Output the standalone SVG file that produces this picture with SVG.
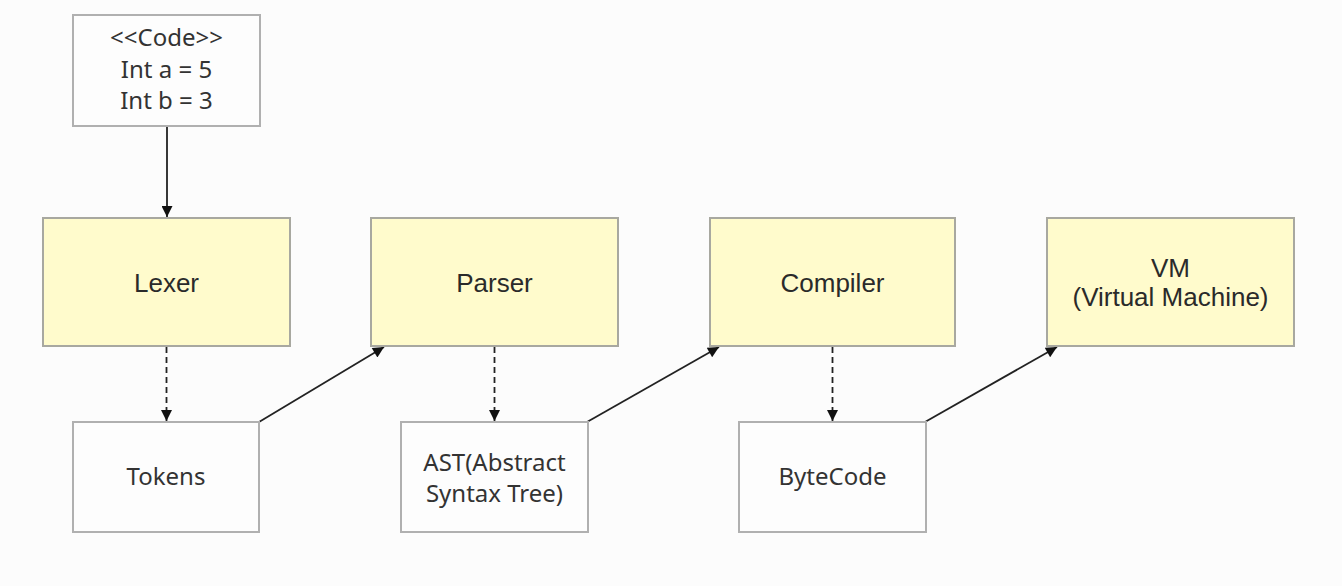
<svg xmlns="http://www.w3.org/2000/svg" width="1342" height="586" viewBox="0 0 1342 586">
<style>
.bg{fill:#fcfcfc}
.proc{fill:#fffbcc;stroke:#a8a8a0;stroke-width:2}
.data{fill:#fdfdfd;stroke:#b0b0b0;stroke-width:2}
.t1{font-family:"Liberation Sans",Arial,sans-serif;font-size:26px;fill:#2a2a2a;text-anchor:middle}
.t2{font-family:"Noto Sans","Open Sans",sans-serif;font-size:24px;fill:#333;text-anchor:middle}
.solid{stroke:#222;stroke-width:1.8;fill:none}
.dash{stroke:#222;stroke-width:1.8;fill:none;stroke-dasharray:6,4}
</style>
<defs>
<marker id="ahb" viewBox="0 0 10 10" refX="10" refY="5" markerWidth="13" markerHeight="11" markerUnits="userSpaceOnUse" orient="auto">
<path d="M0,0 L10,5 L0,10 z" fill="#111"/>
</marker>
</defs>
<rect class="bg" x="0" y="0" width="1342" height="586"/>
<g id="connectors">
<line class="solid" x1="167" y1="126" x2="167" y2="217" marker-end="url(#ahb)"/>
<line class="dash" x1="166.5" y1="347" x2="166.5" y2="421" marker-end="url(#ahb)"/>
<line class="dash" x1="494.5" y1="347" x2="494.5" y2="421" marker-end="url(#ahb)"/>
<line class="dash" x1="832.5" y1="347" x2="832.5" y2="421" marker-end="url(#ahb)"/>
<line class="solid" x1="259" y1="422" x2="384" y2="347" marker-end="url(#ahb)"/>
<line class="solid" x1="587" y1="422" x2="719" y2="347" marker-end="url(#ahb)"/>
<line class="solid" x1="925" y1="422" x2="1057" y2="347" marker-end="url(#ahb)"/>
</g>
<g id="code">
<rect class="data" x="73" y="15" width="187" height="111"/>
<text class="t2" x="166.5" y="46">&lt;&lt;Code&gt;&gt;</text>
<text class="t2" x="166.5" y="78">Int a = 5</text>
<text class="t2" x="166.5" y="109">Int b = 3</text>
</g>
<g id="lexer">
<rect class="proc" x="43" y="218" width="247" height="128"/>
<text class="t1" x="166.5" y="292">Lexer</text>
</g>
<g id="parser">
<rect class="proc" x="371" y="218" width="247" height="128"/>
<text class="t1" x="494.5" y="292">Parser</text>
</g>
<g id="compiler">
<rect class="proc" x="710" y="218" width="245" height="128"/>
<text class="t1" x="832.5" y="292">Compiler</text>
</g>
<g id="vm">
<rect class="proc" x="1047" y="218" width="247" height="128"/>
<text class="t1" x="1170.5" y="277">VM</text>
<text class="t1" x="1170.5" y="306">(Virtual Machine)</text>
</g>
<g id="tokens">
<rect class="data" x="73" y="422" width="186" height="110"/>
<text class="t2" x="166" y="485">Tokens</text>
</g>
<g id="ast">
<rect class="data" x="401" y="422" width="187" height="110"/>
<text class="t2" x="494.5" y="471">AST(Abstract</text>
<text class="t2" x="494.5" y="502">Syntax Tree)</text>
</g>
<g id="bytecode">
<rect class="data" x="739" y="422" width="187" height="110"/>
<text class="t2" x="832.5" y="485">ByteCode</text>
</g>
</svg>
